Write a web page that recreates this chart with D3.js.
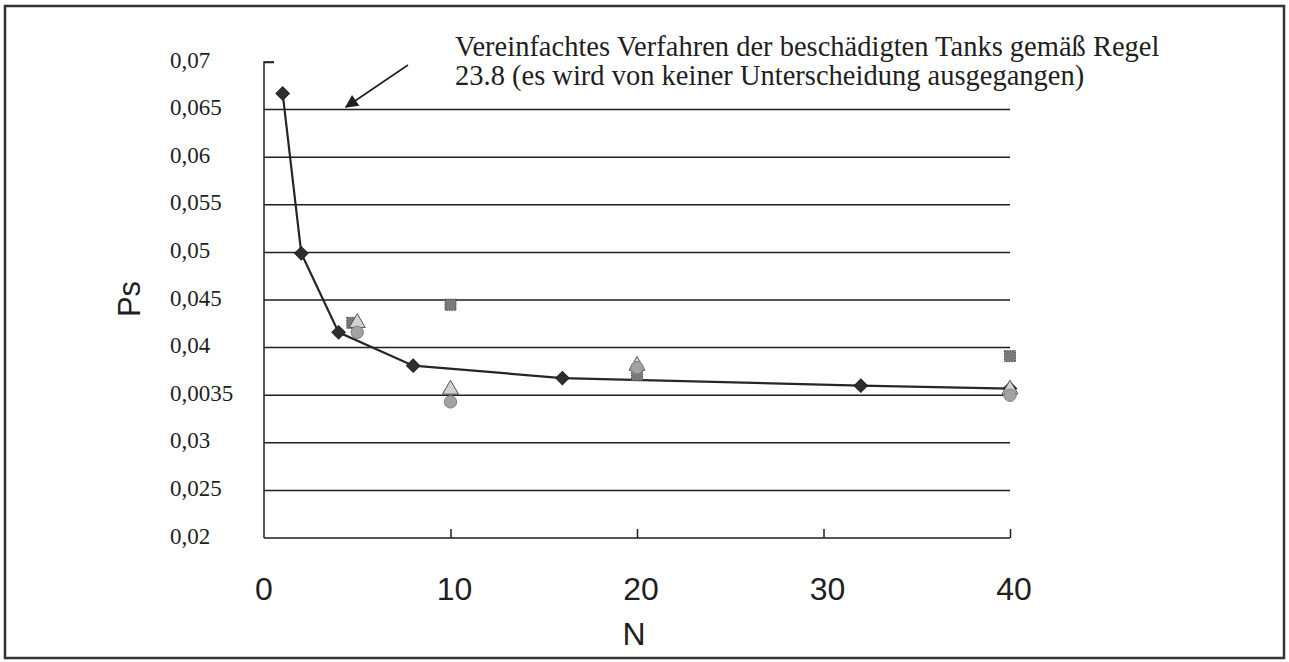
<!DOCTYPE html>
<html>
<head>
<meta charset="utf-8">
<script src="https://cdn.jsdelivr.net/npm/d3@7"></script>
<style>
  body { margin: 0; background: #fff; }
  svg { display: block; }
</style>
</head>
<body>
<div id="chart"></div>
<script>
const width = 1289, height = 662;

// main series (diamonds + line)
const nMain = [1, 2, 4, 8, 16, 32, 40];
const psMain = [0.0667, 0.0499, 0.0416, 0.0381, 0.0368, 0.0360, 0.0357];

// the three point series
const nOther = [5, 10, 20, 40];
const psSquare = [0.0426, 0.0445, 0.0371, 0.0391];
const psTriangle = [0.0426, 0.0356, 0.0381, 0.0356];
const psCircle = [0.0416, 0.0343, 0.0379, 0.0350];

const yTicks = [0.02, 0.025, 0.03, 0.035, 0.04, 0.045, 0.05, 0.055, 0.06, 0.065, 0.07];
const yTickLabels = ["0,02", "0,025", "0,03", "0,0035", "0,04", "0,045", "0,05", "0,055", "0,06", "0,065", "0,07"];
const xTicks = [0, 10, 20, 30, 40];

const noteLines = [
  "Vereinfachtes Verfahren der beschädigten Tanks gemäß Regel",
  "23.8 (es wird von keiner Unterscheidung ausgegangen)"
];

const margin = {left: 264, right: 279, top: 62, bottom: 124};

let x = d3.scaleLinear().domain([0, 40]).range([margin.left, width - margin.right]);
let y = d3.scaleLinear().domain([0.02, 0.07]).range([height - margin.bottom, margin.top]);

const ink = "#1f1f1f";

const svg = d3.select("#chart").append("svg")
  .attr("width", width)
  .attr("height", height);

// frame
svg.append("rect")
  .attr("x", 5).attr("y", 6)
  .attr("width", 1279).attr("height", 652)
  .attr("fill", "none")
  .attr("stroke", "#333")
  .attr("stroke-width", 2.5);

// grid lines
svg.append("g")
  .selectAll("line")
  .data(yTicks.filter(d => d > 0.02 && d < 0.07))
  .join("line")
  .attr("x1", x(0)).attr("x2", x(40))
  .attr("y1", d => y(d)).attr("y2", d => y(d))
  .attr("stroke", ink)
  .attr("stroke-width", 1.5);

// y axis
let yAxis = d3.axisRight(y)
  .tickValues([0.07])
  .tickSize(10)
  .tickFormat("");
svg.append("g")
  .attr("transform", `translate(${x(0)},0)`)
  .call(yAxis)
  .call(g => g.selectAll("path, line").attr("stroke", ink).attr("stroke-width", 1.5))
  .call(g => g.select(".domain").attr("d", `M10,${y(0.07)}H0V${y(0.02)}`));

// y labels (left aligned)
svg.append("g")
  .selectAll("text")
  .data(yTicks)
  .join("text")
  .attr("x", 170)
  .attr("y", d => y(d) - 2)
  .attr("dominant-baseline", "central")
  .style("font", "23px 'Liberation Serif', 'Times New Roman', serif")
  .attr("fill", ink)
  .text((d, i) => yTickLabels[i]);

// x axis
let xAxis = d3.axisTop(x)
  .tickValues([10, 20, 30, 40])
  .tickSize(9)
  .tickFormat("");
svg.append("g")
  .attr("transform", `translate(0,${y(0.02)})`)
  .call(xAxis)
  .call(g => g.selectAll("path, line").attr("stroke", ink).attr("stroke-width", 1.5))
  .call(g => g.select(".domain").attr("d", `M${x(0)},0H${x(40)}`));

svg.append("g")
  .selectAll("text")
  .data(xTicks)
  .join("text")
  .attr("x", d => x(d) + (d ? 4 : 0))
  .attr("y", 600)
  .attr("text-anchor", "middle")
  .style("font", "32px 'Liberation Sans', Arial, sans-serif")
  .attr("fill", ink)
  .text(d => d);

// axis titles
svg.append("text")
  .attr("x", 634).attr("y", 645)
  .attr("text-anchor", "middle")
  .style("font", "32px 'Liberation Sans', Arial, sans-serif")
  .attr("fill", ink)
  .text("N");

svg.append("text")
  .attr("transform", "translate(140,299) rotate(-90)")
  .attr("text-anchor", "middle")
  .style("font", "31px 'Liberation Sans', Arial, sans-serif")
  .attr("fill", ink)
  .text("Ps");

// main line
let line = d3.line()
  .x((d, i) => x(nMain[i]))
  .y(d => y(d));

svg.append("path")
  .datum(psMain)
  .attr("d", line)
  .attr("fill", "none")
  .attr("stroke", "#262626")
  .attr("stroke-width", 2.2);

svg.append("g")
  .selectAll("path")
  .data(psMain)
  .join("path")
  .attr("transform", (d, i) => `translate(${x(nMain[i])},${y(d)}) rotate(45)`)
  .attr("d", d3.symbol(d3.symbolSquare, 90))
  .attr("fill", "#2e2e2e")
  .attr("stroke", "#222");

// other markers
svg.append("g")
  .selectAll("rect")
  .data(psSquare)
  .join("rect")
  .attr("x", (d, i) => x(nOther[i]) - 5.5 - (i === 0 ? 5 : 0))
  .attr("y", d => y(d) - 5.5)
  .attr("width", 11).attr("height", 11)
  .attr("fill", "#7a7a7a")
  .attr("stroke", "#4a4a4a")
  .attr("stroke-dasharray", "1.5,1");

svg.append("g")
  .selectAll("path")
  .data(psTriangle)
  .join("path")
  .attr("transform", (d, i) => `translate(${x(nOther[i])},${y(d)})`)
  .attr("d", d3.symbol(d3.symbolTriangle, 110))
  .attr("fill", "#d2d2d2")
  .attr("stroke", "#555");

svg.append("g")
  .selectAll("path")
  .data(psCircle)
  .join("path")
  .attr("transform", (d, i) => `translate(${x(nOther[i])},${y(d)})`)
  .attr("d", d3.symbol(d3.symbolCircle, 120))
  .attr("fill", "#a2a2a2")
  .attr("stroke", "#808080");

// annotation
svg.append("text")
  .style("font", "28.5px 'Liberation Serif', 'Times New Roman', serif")
  .attr("fill", ink)
  .selectAll("tspan")
  .data(noteLines)
  .join("tspan")
  .attr("x", 455)
  .attr("y", (d, i) => 56 + i * 29)
  .text(d => d);

svg.append("defs").append("marker")
  .attr("id", "arrow")
  .attr("viewBox", "0 0 10 10")
  .attr("refX", 9).attr("refY", 5)
  .attr("markerWidth", 16).attr("markerHeight", 13)
  .attr("markerUnits", "userSpaceOnUse")
  .attr("orient", "auto")
  .append("path")
  .attr("d", "M0,0L10,5L0,10Z")
  .attr("fill", ink);

svg.append("line")
  .attr("x1", 408).attr("y1", 65)
  .attr("x2", 346).attr("y2", 107)
  .attr("stroke", ink)
  .attr("stroke-width", 1.6)
  .attr("marker-end", "url(#arrow)");
</script>
</body>
</html>
